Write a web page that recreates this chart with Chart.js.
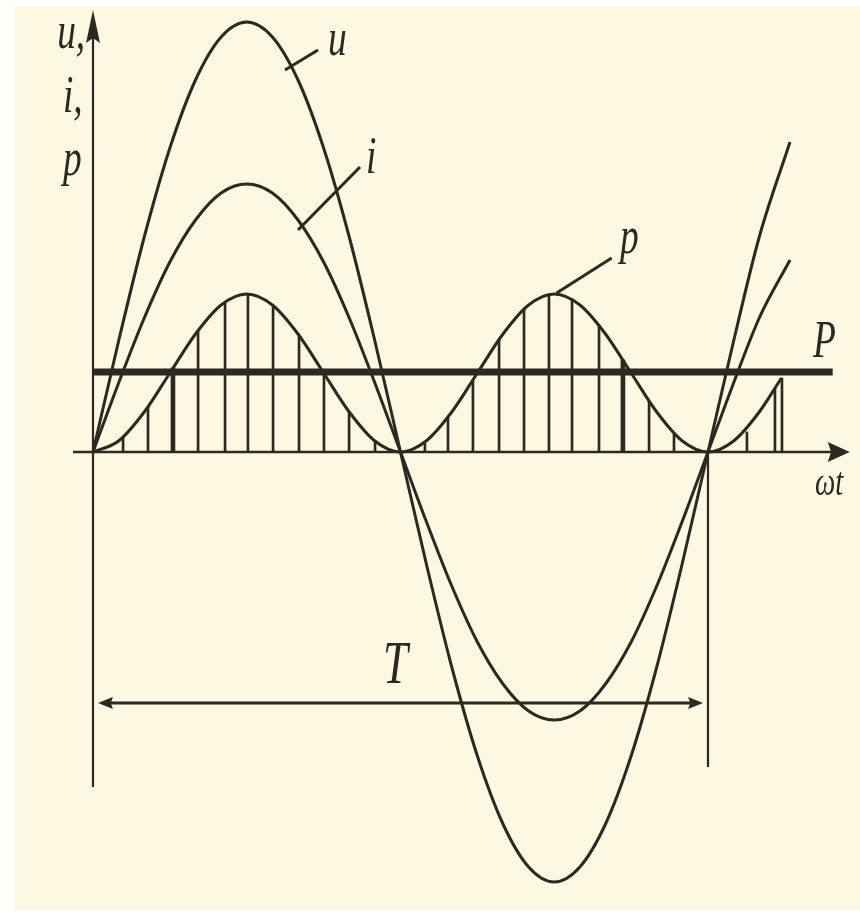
<!DOCTYPE html>
<html>
<head>
<meta charset="utf-8">
<script src="https://cdn.jsdelivr.net/npm/chart.js@4.4.1/dist/chart.umd.min.js"></script>
<style>
  html, body { margin: 0; padding: 0; background: #ffffff; }
</style>
</head>
<body>
<canvas id="Chart" width="860" height="918"></canvas>
<script>
// ωt in degrees (px above the ωt axis)
const angles = [0, 15, 30, 45, 60, 75, 90, 105, 120, 135, 150, 165, 180, 195, 210, 225, 240, 255, 270, 285, 300, 315, 330, 345, 360, 375, 390, 408];
const uValues = [0, 111, 215, 304, 372, 415, 430, 415, 372, 304, 215, 111, 0, -111, -215, -304, -372, -415, -430, -415, -372, -304, -215, -111, 0, 111, 215, 310];
const iValues = [0, 69, 134, 190, 232, 259, 268, 259, 232, 190, 134, 69, 0, -69, -134, -190, -232, -259, -268, -259, -232, -190, -134, -69, 0, 69, 134, 192];

const pAngles = [0, 15, 30, 45, 60, 75, 90, 105, 120, 135, 150, 165, 180, 195, 210, 225, 240, 255, 270, 285, 300, 315, 330, 345, 360, 375, 390, 403];
const pValues = [0, 11, 40, 79, 118, 147, 158, 147, 118, 79, 40, 11, 0, 11, 40, 79, 118, 147, 158, 147, 118, 79, 40, 11, 0, 11, 40, 74];

// mean power P
const meanP = 80;
const meanPRange = [0, 433];

// hatching under p
const hatchAngles = [17.6, 32.2, 61.5, 77.3, 90.7, 105.4, 120.6, 135.2, 149.9, 165.1, 194.3, 207.8, 222.4, 237.7, 252.3, 266.9, 280.4, 296.2, 325.5, 340.1, 382.8, 399.2, 403.3];
const hatchValues = [14, 45, 122, 150, 158, 147, 117, 78, 40, 10, 10, 34, 72, 113, 143, 157, 153, 127, 51, 18, 20, 63, 74];
const hatchBoldAngles = [46.8, 310.2];
const hatchBoldValues = [84, 92];

// axes and the period mark
const xAxisRange = [-11.7, 443];
const yAxisRange = [-335, 442];
const periodEnd = 360;
const periodDepth = -315;
const periodLevel = -251;
const periodRange = [2.9, 357.1];

// leader lines from curve to its letter
const uLeader = [[112.4, 382], [131.7, 402]];
const iLeader = [[120, 222], [156.3, 285]];
const pLeader = [[271.4, 159], [303.6, 194]];

// letters (ωt, value)
const labelTexts = ['u,', 'i,', 'p', 'u', 'i', 'p', 'P', 'T', 'ωt'];
const labelX = [-21, -17.6, -17.6, 137.6, 159.8, 308.5, 421.5, 169.8, 422.6];
const labelY = [404, 340, 277, 397, 279, 199, 95, -231, -43];

const ink = '#2b2921';
const paperColor = '#fcf8e1';

const pts = (xs, ys) => xs.map((v, k) => ({ x: v, y: ys[k] }));
const seg = (pairs) => pairs.map(p => ({ x: p[0], y: p[1] }));

const ctx = document.getElementById('Chart');

const paper = {
    id: 'paper',
    beforeDraw(chart) {
        const c = chart.ctx;
        c.save();
        c.fillStyle = '#ffffff';
        c.fillRect(0, 0, chart.width, chart.height);
        c.fillStyle = paperColor;
        c.fillRect(14, 6, chart.width - 14, 904);
        c.restore();
    }
};

function arrowHead(c, tx, ty, dx, dy, len, half) {
    const bx = tx - dx * len, by = ty - dy * len;
    c.beginPath();
    c.moveTo(tx, ty);
    c.lineTo(bx - dy * half, by + dx * half);
    c.lineTo(bx + dx * len * 0.15, by + dy * len * 0.15);
    c.lineTo(bx + dy * half, by - dx * half);
    c.closePath();
    c.fill();
}

const marks = {
    id: 'marks',
    afterDatasetsDraw(chart) {
        const c = chart.ctx;
        const sx = chart.scales.x, sy = chart.scales.y;
        c.save();
        c.fillStyle = ink;
        // arrow heads
        arrowHead(c, sx.getPixelForValue(0), sy.getPixelForValue(yAxisRange[1]), 0, -1, 33, 7);
        arrowHead(c, sx.getPixelForValue(xAxisRange[1]), sy.getPixelForValue(0), 1, 0, 22, 10);
        arrowHead(c, sx.getPixelForValue(periodRange[0]), sy.getPixelForValue(periodLevel), -1, 0, 15, 6);
        arrowHead(c, sx.getPixelForValue(periodRange[1]), sy.getPixelForValue(periodLevel), 1, 0, 15, 6);

        // letters
        c.textBaseline = 'alphabetic';
        c.textAlign = 'left';
        labelTexts.forEach((t, k) => {
            const px = sx.getPixelForValue(labelX[k]);
            const py = sy.getPixelForValue(labelY[k]);
            let size = 52;
            if (t === 'T') size = 62;
            if (t === 'ωt') size = 40;
            c.save();
            c.translate(px, py);
            c.scale(0.72, 1);
            c.font = 'italic ' + size + "px 'Liberation Serif', 'DejaVu Serif', serif";
            c.fillText(t, 0, 0);
            c.restore();
        });
        c.restore();
    }
};

const line = (data, width) => ({
    type: 'line',
    data: data,
    borderColor: ink,
    borderWidth: width,
    pointRadius: 0,
    fill: false,
    tension: 0
});

const curve = (data) => Object.assign(line(data, 3), { cubicInterpolationMode: 'monotone' });

const chart = new Chart(ctx, {
    type: 'line',
    data: {
        datasets: [
            curve(pts(angles, uValues)),
            curve(pts(angles, iValues)),
            curve(pts(pAngles, pValues)),
            line(seg([[meanPRange[0], meanP], [meanPRange[1], meanP]]), 7),
            line(seg([[xAxisRange[0], 0], [xAxisRange[1] - 8, 0]]), 2.4),
            line(seg([[0, yAxisRange[0]], [0, yAxisRange[1] - 10]]), 2.2),
            line(seg([[periodEnd, 0], [periodEnd, periodDepth]]), 2.2),
            line(seg([[periodRange[0] + 3, periodLevel], [periodRange[1] - 3, periodLevel]]), 3),
            line(seg(uLeader), 3),
            line(seg(iLeader), 3),
            line(seg(pLeader), 3),
            {
                type: 'bar',
                data: pts(hatchAngles, hatchValues),
                backgroundColor: ink,
                borderWidth: 0,
                barThickness: 2,
                grouped: false
            },
            {
                type: 'bar',
                data: pts(hatchBoldAngles, hatchBoldValues),
                backgroundColor: ink,
                borderWidth: 0,
                barThickness: 4,
                grouped: false
            }
        ]
    },
    options: {
        responsive: false,
        animation: false,
        events: [],
        layout: { padding: 0 },
        plugins: {
            legend: { display: false },
            tooltip: { enabled: false }
        },
        scales: {
            x: { type: 'linear', min: -54.44, max: 448.98, display: false, offset: false },
            y: { type: 'linear', min: -466, max: 452, display: false }
        }
    },
    plugins: [paper, marks]
});
</script>
</body>
</html>
